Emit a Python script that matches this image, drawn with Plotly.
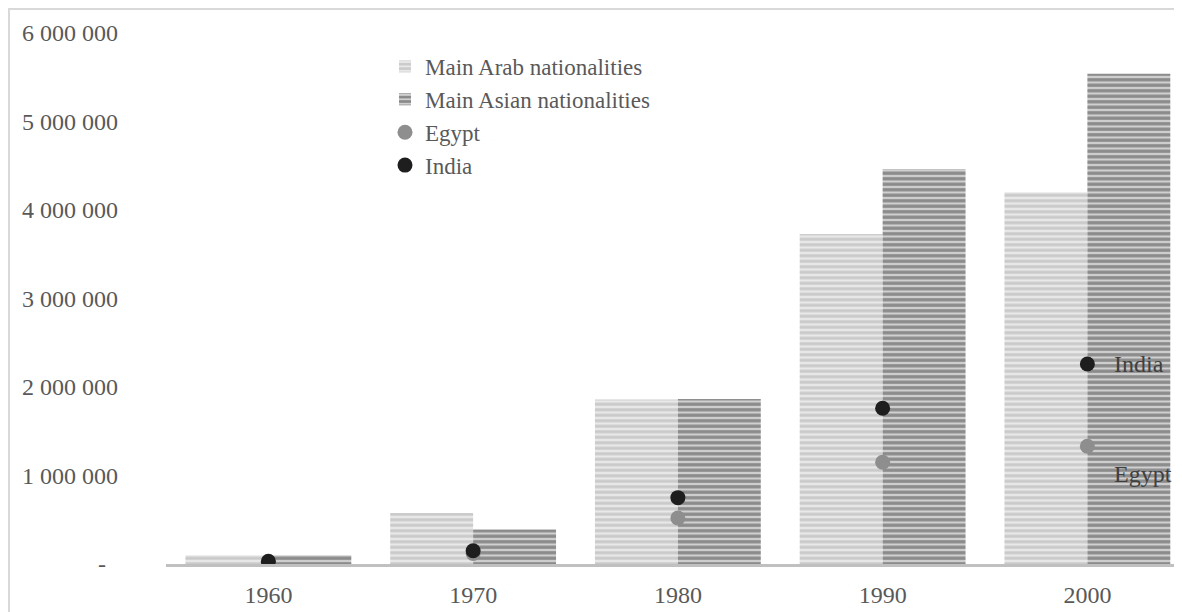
import plotly.graph_objects as go

years = ["1960", "1970", "1980", "1990", "2000"]
arab = [100000, 575000, 1860000, 3730000, 4200000]
asian = [100000, 390000, 1865000, 4460000, 5540000]
egypt = [20000, 120000, 520000, 1150000, 1330000]
india = [30000, 150000, 750000, 1760000, 2260000]

y_tickvals = [0, 1000000, 2000000, 3000000, 4000000, 5000000, 6000000]
y_ticktext = ["-\u2002", "1 000 000", "2 000 000", "3 000 000",
              "4 000 000", "5 000 000", "6 000 000"]

FONT = "Liberation Serif"
TXT = "#595959"

fig = go.Figure()
fig.add_trace(go.Bar(
    x=years, y=arab, name="Main Arab nationalities",
    marker=dict(color="#e4e4e4", line=dict(width=0),
                pattern=dict(shape="-", fgcolor="#acacac", bgcolor="#e8e8e8", size=5.5, solidity=0.55)),
))
fig.add_trace(go.Bar(
    x=years, y=asian, name="Main Asian nationalities",
    marker=dict(color="#d0d0d0", line=dict(width=0),
                pattern=dict(shape="-", fgcolor="#464646", bgcolor="#d0d0d0", size=5.5, solidity=0.6)),
))
fig.add_trace(go.Scatter(
    x=years, y=egypt, name="Egypt", mode="markers",
    marker=dict(size=15, color="#8e8e8e"),
))
fig.add_trace(go.Scatter(
    x=years, y=india, name="India", mode="markers",
    marker=dict(size=15, color="#1e1e1e"),
))

last = len(years) - 1
fig.add_annotation(x=last, y=india[last], xref="x", yref="y", text="India", showarrow=False,
                   xanchor="left", xshift=25, font=dict(family=FONT, size=24, color="#404040"))
fig.add_annotation(x=last, y=egypt[last], xref="x", yref="y", text="Egypt", showarrow=False,
                   xanchor="left", xshift=25, yshift=-28, font=dict(family=FONT, size=24, color="#404040"))

# screen px targets (page body adds an 8px offset)
OFF = 8
L, R, T, B = 166 - OFF, 1177 - OFF, 33 - OFF, 566 - OFF
pw, ph = R - L, B - T

fig.add_shape(type="rect", xref="paper", yref="paper",
              x0=(1 - L) / pw, x1=(1300 - L) / pw, y0=-0.3, y1=(B - 1) / ph,
              line=dict(color="#d9d9d9", width=2), layer="below")

fig.update_layout(
    width=1182, height=612,
    margin=dict(l=L, r=1182 - R, t=T, b=612 - B, pad=0),
    paper_bgcolor="white", plot_bgcolor="white",
    barmode="group", bargap=0.19, bargroupgap=0,
    font=dict(family=FONT, size=24, color=TXT),
    showlegend=True,
    legend=dict(x=(385 - OFF - L) / pw, y=(B - (45 - OFF)) / ph, xanchor="left", yanchor="top",
                bgcolor="rgba(0,0,0,0)", font=dict(family=FONT, size=23, color=TXT),
                itemwidth=30, tracegroupgap=0, traceorder="normal"),
    xaxis=dict(type="category", range=[-0.5, -0.5 + pw / 204.75],
               showline=True, linecolor="#c0c0c0", linewidth=3, ticks="",
               showgrid=False, zeroline=False, tickfont=dict(family=FONT, size=24, color=TXT),
               ticklabelstandoff=7),
    yaxis=dict(range=[0, 6000000], showgrid=False, zeroline=False, showline=False, ticks="",
               tickvals=y_tickvals, ticktext=y_ticktext, ticklabelstandoff=47,
               tickfont=dict(family=FONT, size=24, color=TXT)),
)

fig.write_html("out.html")
